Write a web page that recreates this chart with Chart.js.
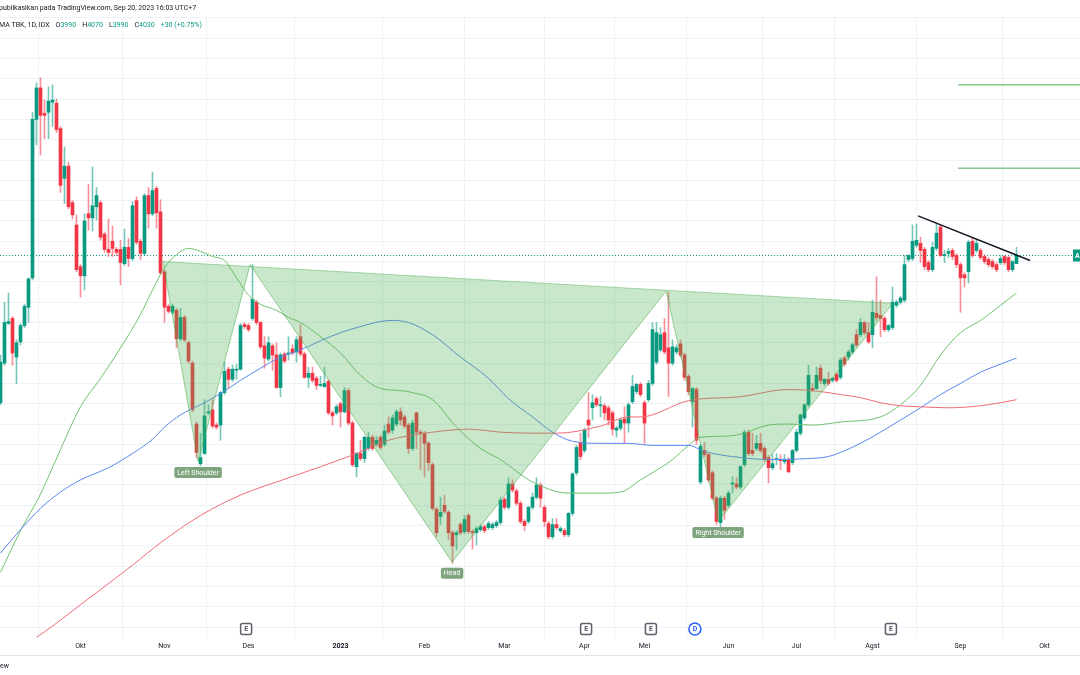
<!DOCTYPE html>
<html>
<head>
<meta charset="utf-8">
<script src="https://cdn.jsdelivr.net/npm/chart.js@4.4.0/dist/chart.umd.min.js"></script>
<style>
  html, body { margin: 0; padding: 0; background: #fff; }
  canvas { display: block; }
</style>
</head>
<body>
<canvas id="chart" width="1080" height="675"></canvas>
<script>
// daily candles, one per trading day (index 0 = mid Sep 2022, last = Sep 20 2023)
const opens = [
  3305,3500,3695,3720,3530,3605,3685,3775,3920,4700,
  4855,4730,4735,4785,4780,4655,4410,4470,4290,4180,
  3975,3930,4235,4215,4270,4290,4135,4060,4100,4060,
  4060,3990,4070,4015,4300,4100,4040,4325,4235,4360,
  4245,3950,3780,3750,3760,3620,3725,3600,3500,3200,
  3005,3055,3255,3270,3195,3195,3355,3470,3420,3465,
  3470,3690,3685,3720,3800,3700,3585,3520,3585,3540,
  3380,3545,3545,3570,3555,3630,3545,3430,3450,3425,
  3390,3385,3410,3255,3255,3300,3260,3365,3205,2990,
  3055,3030,3080,3135,3100,3135,3100,3200,3170,3200,
  3260,3235,3195,3080,3255,3160,3155,3105,3000,2780,
  2745,2800,2765,2665,2655,2705,2670,2750,2670,2665,
  2680,2695,2690,2690,2700,2715,2830,2790,2905,2870,
  2810,2720,2720,2790,2840,2900,2790,2710,2645,2705,
  2675,2675,2655,2760,2960,3105,3070,3220,3280,3325,
  3290,3290,3280,3255,3170,3180,3225,3205,3310,3360,
  3395,3305,3320,3400,3505,3565,3650,3575,3500,3555,
  3595,3540,3435,3310,3370,2915,3070,3050,2960,2835,
  2715,2835,2800,2905,2905,2890,3000,3160,3070,3080,
  3105,3080,3035,2985,3025,3025,3015,3025,3010,3070,
  3155,3230,3295,3375,3375,3475,3400,3420,3415,3445,
  3430,3525,3530,3555,3640,3640,3700,3650,3640,3745,
  3735,3720,3665,3675,3785,3800,3810,4010,4015,4080,
  4090,4060,3995,3960,4065,4170,4030,4040,4055,4030,
  3985,3935,3950,4100,4055,4055,4025,4010,4000,3985,
  3995,4025,4020,3960,3990
];
const highs = [
  3540,3800,3845,3730,3615,3695,3790,3920,4735,4880,
  4905,4795,4860,4870,4800,4665,4565,4490,4300,4230,
  3985,4235,4380,4465,4365,4300,4145,4210,4175,4070,
  4105,4160,4115,4295,4320,4110,4335,4365,4440,4370,
  4305,3960,3790,3790,3770,3770,3735,3610,3510,3210,
  3155,3320,3295,3320,3205,3360,3505,3480,3490,3495,
  3695,3700,3695,3985,3810,3705,3630,3630,3595,3600,
  3550,3555,3630,3590,3630,3690,3555,3480,3480,3435,
  3435,3480,3420,3265,3295,3310,3380,3375,3215,3060,
  3120,3140,3160,3145,3140,3145,3195,3235,3245,3270,
  3280,3245,3205,3220,3260,3170,3165,3115,3010,2790,
  2840,2850,2775,2675,2675,2715,2750,2760,2680,2695,
  2705,2705,2720,2715,2725,2840,2840,2935,2925,2880,
  2820,2730,2795,2860,2935,2910,2800,2720,2735,2735,
  2695,2685,2765,2960,3095,3155,3180,3355,3345,3335,
  3335,3300,3290,3265,3190,3230,3285,3305,3440,3400,
  3405,3315,3415,3700,3700,3675,3720,3850,3615,3590,
  3615,3550,3445,3380,3380,3100,3110,3055,2970,2845,
  2845,2845,2870,2940,2935,2995,3170,3170,3155,3145,
  3155,3090,3045,3050,3055,3050,3050,3035,3075,3175,
  3250,3300,3490,3400,3480,3490,3425,3455,3430,3455,
  3525,3535,3565,3600,3665,3720,3705,3700,3810,3925,
  3810,3730,3690,3875,3810,3830,4030,4035,4180,4185,
  4120,4070,4005,4095,4190,4180,4055,4065,4065,4040,
  3995,3945,4105,4115,4110,4065,4035,4020,4010,3995,
  4030,4030,4025,4005,4070
];
const lows = [
  3295,3490,3690,3490,3400,3590,3675,3700,3910,4575,
  4525,4605,4605,4665,4635,4340,4285,4260,4210,3950,
  3825,3860,4155,4150,4205,4105,4045,4025,4025,4030,
  3885,3980,3975,4005,4085,4010,4030,4165,4225,4165,
  3935,3700,3745,3740,3575,3610,3605,3500,3260,3035,
  2995,3050,3245,3180,3175,3120,3345,3380,3410,3420,
  3465,3670,3655,3710,3690,3570,3475,3510,3465,3375,
  3335,3500,3515,3540,3505,3535,3425,3380,3405,3370,
  3385,3380,3245,3195,3245,3185,3255,3195,2990,2940,
  3020,3010,3070,3070,3090,3075,3090,3150,3155,3190,
  3195,3180,3055,3070,3080,2975,2940,2970,2775,2645,
  2705,2760,2630,2515,2580,2655,2660,2660,2585,2605,
  2670,2665,2680,2680,2690,2705,2780,2780,2865,2800,
  2710,2675,2710,2780,2830,2790,2695,2635,2635,2680,
  2665,2645,2645,2750,2950,3025,3060,3135,3220,3285,
  3235,3220,3195,3145,3135,3170,3105,3160,3300,3350,
  3335,3105,3310,3390,3495,3555,3545,3335,3490,3545,
  3530,3415,3345,3185,3100,2905,3040,2915,2825,2705,
  2695,2730,2790,2860,2880,2880,2990,3045,3045,3070,
  3060,3015,2910,2975,3000,2975,3005,2960,3000,3060,
  3145,3220,3285,3360,3370,3400,3390,3390,3405,3405,
  3420,3485,3515,3545,3580,3630,3640,3595,3575,3710,
  3630,3655,3655,3665,3775,3790,3800,4000,4005,4070,
  3995,3960,3950,3950,4055,4025,3995,4020,4010,3970,
  3750,3875,3895,4020,4045,4010,3990,3975,3965,3950,
  3985,3985,3950,3950,3990
];
const closes = [
  3505,3700,3705,3550,3600,3685,3780,3915,4700,4855,
  4720,4720,4790,4795,4650,4375,4470,4270,4230,3960,
  3930,4200,4215,4275,4325,4120,4060,4045,4065,4045,
  3995,4070,4015,4275,4095,4040,4325,4235,4350,4240,
  3945,3775,3755,3780,3620,3725,3615,3510,3270,3060,
  3035,3240,3260,3190,3185,3355,3460,3420,3470,3470,
  3685,3680,3665,3815,3700,3580,3525,3600,3540,3380,
  3540,3510,3550,3550,3615,3545,3430,3450,3415,3390,
  3395,3400,3255,3240,3285,3260,3365,3205,3000,3055,
  3030,3135,3135,3080,3120,3085,3165,3160,3230,3260,
  3220,3190,3080,3205,3160,3155,3105,3010,2785,2665,
  2765,2770,2665,2600,2665,2665,2730,2670,2665,2685,
  2695,2675,2710,2705,2715,2825,2790,2905,2875,2810,
  2720,2700,2790,2840,2900,2835,2720,2645,2705,2690,
  2685,2655,2760,2955,3085,3040,3170,3195,3305,3295,
  3295,3255,3220,3175,3180,3220,3205,3295,3385,3395,
  3345,3205,3400,3665,3650,3640,3555,3500,3580,3575,
  3540,3430,3360,3375,3120,3090,3050,2925,2835,2720,
  2835,2775,2860,2910,2890,2990,3160,3055,3055,3105,
  3070,3025,2985,3005,3030,3020,3025,2965,3070,3160,
  3245,3295,3440,3370,3440,3415,3420,3400,3425,3415,
  3515,3495,3555,3590,3590,3700,3650,3605,3750,3725,
  3720,3665,3685,3800,3800,3820,3985,4030,4100,4105,
  4055,3975,3960,4070,4140,4030,4035,4050,4025,3985,
  3920,3920,4095,4030,4090,4020,4000,3985,3975,3960,
  4015,3995,3960,4000,4030
];

// moving averages: [bar index, price]
const maGreen = [[0,2470],[5,2675],[10,2855],[15,3075],[20,3285],[25,3425],[30,3575],[35,3740],[38,3860],[41,3970],[44,4035],[47,4065],[50,4050],[53,4025],[56,4005],[59,3920],[62,3835],[65,3790],[69,3760],[72,3725],[75,3700],[80,3630],[85,3550],[90,3440],[95,3375],[100,3365],[103,3355],[108,3320],[114,3185],[120,3080],[125,3025],[133,2915],[142,2860],[150,2860],[155,2865],[160,2925],[168,3025],[172,3095],[175,3135],[181,3140],[185,3150],[192,3195],[197,3200],[203,3195],[210,3210],[220,3235],[225,3295],[230,3390],[235,3540],[240,3650],[245,3710],[250,3785],[254,3845]];
const maBlue = [[0,2565],[5,2680],[10,2785],[15,2865],[20,2925],[27,2985],[33,3055],[38,3125],[41,3185],[45,3245],[50,3295],[55,3350],[60,3415],[65,3475],[70,3530],[75,3565],[80,3610],[85,3650],[90,3680],[95,3705],[98,3710],[102,3700],[108,3640],[115,3530],[122,3425],[127,3325],[133,3235],[138,3160],[143,3115],[150,3105],[157,3105],[163,3095],[172,3095],[176,3065],[185,3035],[193,3025],[202,3030],[207,3040],[210,3060],[215,3105],[220,3160],[225,3220],[230,3280],[235,3345],[240,3400],[245,3455],[250,3495],[254,3525]];
const maRed = [[9,2150],[13,2205],[18,2280],[25,2385],[33,2505],[40,2615],[50,2750],[60,2850],[72,2935],[80,2990],[89,3055],[97,3120],[103,3145],[108,3160],[117,3175],[125,3160],[133,3155],[139,3155],[150,3190],[157,3235],[160,3235],[172,3315],[185,3335],[197,3370],[205,3360],[210,3345],[215,3330],[220,3305],[225,3290],[230,3285],[237,3280],[245,3290],[250,3305],[254,3320]];

// head and shoulders drawing
const hsPoints = [[40.6,4000],[49.4,3015],[62.4,3985],[112.9,2520],[166.4,3855],[179.4,2720],[223.1,3795]];
const hsLabels = ['', 'Left Shoulder', '', 'Head', '', 'Right Shoulder', ''];
const trendLine = [[229.4,4225],[257.4,4005]];
const targetLevels = [4870, 4460];
const targetStart = 239.4;

const monthTicks = [20, 41, 62, 85, 106, 126, 146, 161, 182, 199, 218, 240, 261];
const monthLabels = ['Okt', 'Nov', 'Des', '2023', 'Feb', 'Mar', 'Apr', 'Mei', 'Jun', 'Jul', 'Agst', 'Sep', 'Okt'];
const eventIdx = [61.4, 146.4, 162.6, 173.6, 222.6];
const eventType = ['E', 'E', 'E', 'D', 'E'];

const UP = '#089981', DOWN = '#f23645', GRID = '#eef1f6', DARK = '#131722';
const FONT = 'Roboto, "Liberation Sans", sans-serif';
const xMin = -0.125, xMax = 269.875, yMin = 2146.5, yMax = 5204.3;
const last = closes.length - 1;

const isUp = opens.map((o, i) => closes[i] >= o);
const bodies = opens.map((o, i) => ({ x: i, y: [o, closes[i]] }));
const wicks = lows.map((l, i) => ({ x: i, y: [l, highs[i]] }));
const pts = arr => arr.map(([x, y]) => ({ x, y }));

function lineSet(data, color, width, order, extra) {
  return Object.assign({
    type: 'line', data: pts(data), borderColor: color, borderWidth: width,
    pointRadius: 0, fill: false, tension: 0, order: order
  }, extra || {});
}

const overlay = {
  id: 'overlay',
  beforeDraw(chart) {
    const c = chart.ctx;
    c.save();
    c.fillStyle = '#fff';
    c.fillRect(0, 0, chart.width, chart.height);
    c.restore();
  },
  afterDraw(chart) {
    const c = chart.ctx, xs = chart.scales.x, ys = chart.scales.y;
    c.save();
    c.textBaseline = 'middle';

    // header
    c.font = '7px ' + FONT;
    c.fillStyle = DARK;
    c.fillText('publikasikan pada TradingView.com, Sep 20, 2023 16:03 UTC+7', -1, 8);
    const chg = closes[last] - closes[last - 1];
    const parts = [
      [['MA TBK, 1D, IDX', DARK]],
      [['O', DARK], [String(opens[last]), UP]],
      [['H', DARK], [String(highs[last]), UP]],
      [['L', DARK], [String(lows[last]), UP]],
      [['C', DARK], [String(closes[last]), UP]],
      [['+' + chg + ' (+' + (chg / closes[last - 1] * 100).toFixed(2) + '%)', UP]]
    ];
    let tx = -1;
    parts.forEach(group => {
      group.forEach(([t, col]) => {
        c.fillStyle = col;
        c.fillText(t, tx, 25);
        tx += c.measureText(t).width;
      });
      tx += 6;
    });

    // pattern labels
    c.font = '7px ' + FONT;
    c.textAlign = 'center';
    hsPoints.forEach(([i, p], k) => {
      if (!hsLabels[k]) return;
      const px = xs.getPixelForValue(i), py = ys.getPixelForValue(p) + 11;
      const w = c.measureText(hsLabels[k]).width + 6, h = 11;
      c.fillStyle = '#7fa57f';
      c.beginPath();
      if (c.roundRect) c.roundRect(px - w / 2, py - h / 2, w, h, 2); else c.rect(px - w / 2, py - h / 2, w, h);
      c.fill();
      c.fillStyle = '#fff';
      c.fillText(hsLabels[k], px, py + 0.5);
    });

    // earnings / dividend markers
    c.font = 'bold 7px ' + FONT;
    eventIdx.forEach((v, k) => {
      const px = xs.getPixelForValue(v), py = 629;
      c.lineWidth = 1.5;
      c.fillStyle = '#fff';
      c.beginPath();
      if (eventType[k] === 'D') {
        c.strokeStyle = '#2962ff';
        c.arc(px, py, 6, 0, Math.PI * 2);
      } else {
        c.strokeStyle = '#5d606b';
        if (c.roundRect) c.roundRect(px - 5.5, py - 5.5, 11, 11, 2); else c.rect(px - 5.5, py - 5.5, 11, 11);
      }
      c.fill();
      c.stroke();
      c.fillStyle = eventType[k] === 'D' ? '#2962ff' : '#50535e';
      c.fillText(eventType[k], px, py + 0.5);
    });

    // last price label on the (cropped) price scale
    const ly = ys.getPixelForValue(closes[last]);
    c.fillStyle = UP;
    c.fillRect(1073, ly - 6, 12, 12);
    c.fillStyle = '#fff';
    c.textAlign = 'left';
    c.fillText('A', 1075, ly + 0.5);

    // time axis bottom border and footer
    c.fillStyle = '#e0e3eb';
    c.fillRect(0, 655, chart.width, 1);
    c.fillStyle = DARK;
    c.font = '7px ' + FONT;
    c.textAlign = 'right';
    c.fillText('TradingView', 9, 666);
    c.restore();
  }
};

const gridPrices = [];
for (let p = 2200; p <= 5200; p += 100) gridPrices.push(p);

new Chart(document.getElementById('chart'), {
  type: 'bar',
  data: {
    datasets: [
      lineSet([[xMin, closes[last]], [xMax, closes[last]]], UP, 1, 10, { borderDash: [1, 2] }),
      {
        data: wicks, backgroundColor: isUp.map(u => u ? 'rgba(8,153,129,0.55)' : 'rgba(242,54,69,0.55)'),
        barThickness: 1, grouped: false, minBarLength: 1, order: 9
      },
      {
        data: bodies, backgroundColor: isUp.map(u => u ? UP : DOWN),
        barThickness: 3, grouped: false, minBarLength: 1, order: 8
      },
      lineSet(maRed, '#f26b75', 1, 7, { cubicInterpolationMode: 'monotone' }),
      lineSet(maBlue, '#5b86f2', 1, 7, { cubicInterpolationMode: 'monotone' }),
      lineSet(maGreen, '#72c26e', 1, 7, { cubicInterpolationMode: 'monotone' }),
      lineSet(hsPoints, 'rgba(76,175,80,0.55)', 1, 6, { fill: 'shape', backgroundColor: 'rgba(76,175,80,0.3)' }),
      lineSet([hsPoints[0], hsPoints[hsPoints.length - 1]], 'rgba(76,175,80,0.45)', 1, 5),
      lineSet(trendLine, '#131722', 1.5, 5),
      lineSet([[targetStart, targetLevels[0]], [xMax, targetLevels[0]]], '#4caf50', 1, 5),
      lineSet([[targetStart, targetLevels[1]], [xMax, targetLevels[1]]], '#4caf50', 1, 5)
    ]
  },
  options: {
    responsive: false,
    animation: false,
    devicePixelRatio: 1,
    events: [],
    layout: { padding: { top: 17, left: 0, right: 0, bottom: 0 } },
    plugins: { legend: { display: false }, tooltip: { enabled: false } },
    scales: {
      x: {
        type: 'linear', min: xMin, max: xMax, offset: false,
        afterBuildTicks: s => { s.ticks = monthTicks.map(v => ({ value: v })); },
        afterFit: s => { s.height = 37; },
        grid: { color: GRID, drawTicks: false },
        border: { display: false },
        ticks: {
          autoSkip: false, maxRotation: 0, padding: 4, color: DARK,
          font: ctx => ({ family: FONT, size: 7, weight: ctx.tick && ctx.tick.value === 85 ? 'bold' : 'normal' }),
          callback: v => { const k = monthTicks.indexOf(v); return k >= 0 ? monthLabels[k] : ''; }
        }
      },
      y: {
        type: 'linear', min: yMin, max: yMax,
        afterBuildTicks: s => { s.ticks = gridPrices.map(v => ({ value: v })); },
        afterFit: s => { s.width = 0; },
        grid: { color: GRID, drawTicks: false },
        border: { display: false },
        ticks: { display: false }
      }
    }
  },
  plugins: [overlay]
});
</script>
</body>
</html>
